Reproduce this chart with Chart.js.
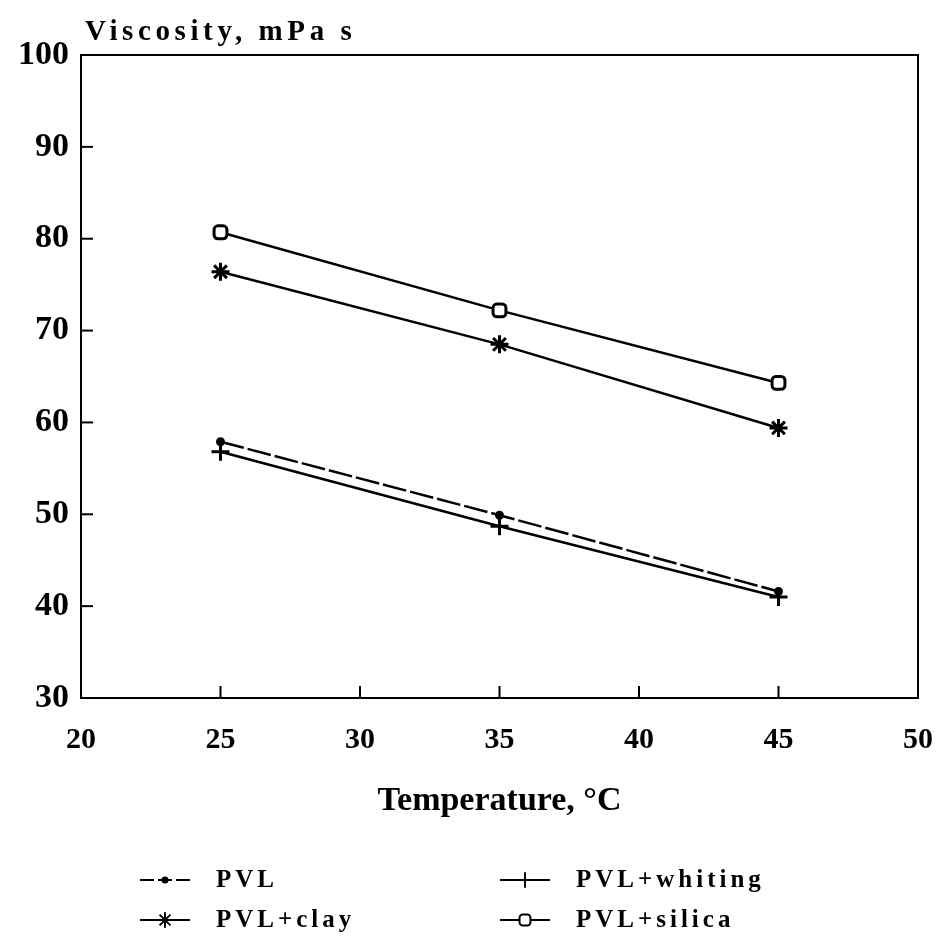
<!DOCTYPE html>
<html>
<head>
<meta charset="utf-8">
<script src="https://cdn.jsdelivr.net/npm/chart.js@4/dist/chart.umd.min.js"></script>
<style>
  html, body { margin: 0; padding: 0; background: #fff; }
  #wrap { width: 941px; height: 941px; }
</style>
</head>
<body>
<div id="wrap"><canvas id="viscChart" width="941" height="941"></canvas></div>
<script>
// Data
const temps = [25, 35, 45];
const pvl = [57.9, 49.9, 41.6];
const pvlWhiting = [56.8, 48.7, 41.0];
const pvlClay = [76.4, 68.5, 59.4];
const pvlSilica = [80.7, 72.2, 64.3];

const xTicks = [20, 25, 30, 35, 40, 45, 50];
const yTicks = [30, 40, 50, 60, 70, 80, 90, 100];

const yTitle = 'Viscosity, mPa s';
const xTitle = 'Temperature, °C';

const FONT = '"Liberation Serif", "DejaVu Serif", serif';

function pts(ys) {
    return temps.map((t, i) => ({ x: t, y: ys[i] }));
}

const series = [
    { label: 'PVL', data: pvl, style: 'circle', radius: 3, dash: [24, 4], fill: '#000' },
    { label: 'PVL+whiting', data: pvlWhiting, style: 'cross', radius: 9, dash: [], fill: '#000' },
    { label: 'PVL+clay', data: pvlClay, style: 'star', radius: 9, dash: [], fill: '#000' },
    { label: 'PVL+silica', data: pvlSilica, style: 'rectRounded', radius: 7.5, dash: [], fill: '#fff' }
];

// Frame, inward ticks, axis titles and the two-column legend
const decorPlugin = {
    id: 'decor',
    afterDraw(chart) {
        const ctx = chart.ctx;
        const xs = chart.scales.x, ys = chart.scales.y;
        const a = chart.chartArea;
        ctx.save();
        ctx.strokeStyle = '#000';
        ctx.lineWidth = 2;
        ctx.strokeRect(a.left, a.top, a.right - a.left, a.bottom - a.top);
        xTicks.forEach(v => {
            const px = xs.getPixelForValue(v);
            ctx.beginPath(); ctx.moveTo(px, a.bottom); ctx.lineTo(px, a.bottom - 12); ctx.stroke();
        });
        yTicks.forEach(v => {
            const py = ys.getPixelForValue(v);
            ctx.beginPath(); ctx.moveTo(a.left, py); ctx.lineTo(a.left + 12, py); ctx.stroke();
        });

        ctx.fillStyle = '#000';
        ctx.font = 'bold 29px ' + FONT;
        ctx.letterSpacing = '4.6px';
        ctx.textAlign = 'left';
        ctx.textBaseline = 'alphabetic';
        ctx.fillText(yTitle, 85, 40);

        ctx.font = 'bold 34px ' + FONT;
        ctx.letterSpacing = '0px';
        ctx.textAlign = 'center';
        ctx.fillText(xTitle, (a.left + a.right) / 2, 810);

        // legend
        const cols = [140, 500];
        const rows = [880, 920];
        ctx.font = 'bold 25px ' + FONT;
        ctx.letterSpacing = '4px';
        ctx.textAlign = 'left';
        ctx.textBaseline = 'middle';
        series.forEach((s, k) => {
            const lx = cols[k % 2], ly = rows[Math.floor(k / 2)];
            ctx.lineWidth = 2;
            ctx.setLineDash(s.dash.length ? [14, 4] : []);
            ctx.beginPath(); ctx.moveTo(lx, ly); ctx.lineTo(lx + 50, ly); ctx.stroke();
            ctx.setLineDash([]);
            ctx.fillStyle = s.fill;
            Chart.helpers.drawPoint(ctx, { pointStyle: s.style, radius: s.radius * 0.85, borderWidth: 2.5 }, lx + 25, ly);
            ctx.fillStyle = '#000';
            ctx.fillText(s.label, lx + 76, ly + 1);
        });
        ctx.restore();
    }
};

new Chart(document.getElementById('viscChart'), {
    type: 'line',
    data: {
        datasets: series.map(s => ({
            label: s.label,
            data: pts(s.data),
            borderColor: '#000',
            borderWidth: 2.5,
            borderDash: s.dash,
            pointStyle: s.style,
            pointRadius: s.radius,
            pointBorderWidth: 3,
            pointBorderColor: '#000',
            pointBackgroundColor: s.fill,
            tension: 0,
            fill: false
        }))
    },
    options: {
        responsive: false,
        animation: false,
        layout: { padding: { top: 55, right: 23, left: 0, bottom: 0 } },
        plugins: {
            legend: { display: false },
            tooltip: { enabled: false }
        },
        scales: {
            x: {
                type: 'linear',
                min: 20, max: 50,
                afterBuildTicks: (scale) => { scale.ticks = xTicks.map(v => ({ value: v })); },
                afterFit: (scale) => { scale.height = 243; scale.paddingRight = 0; },
                grid: { display: false, drawTicks: false },
                border: { display: false },
                ticks: {
                    padding: 24,
                    maxRotation: 0,
                    autoSkip: false,
                    color: '#000',
                    font: { family: FONT, size: 30, weight: 'bold' }
                }
            },
            y: {
                type: 'linear',
                min: 30, max: 100,
                afterBuildTicks: (scale) => { scale.ticks = yTicks.map(v => ({ value: v })); },
                afterFit: (scale) => { scale.width = 81; },
                grid: { display: false, drawTicks: false },
                border: { display: false },
                ticks: {
                    padding: 12,
                    color: '#000',
                    font: { family: FONT, size: 34, weight: 'bold' }
                }
            }
        }
    },
    plugins: [decorPlugin]
});
</script>
</body>
</html>
